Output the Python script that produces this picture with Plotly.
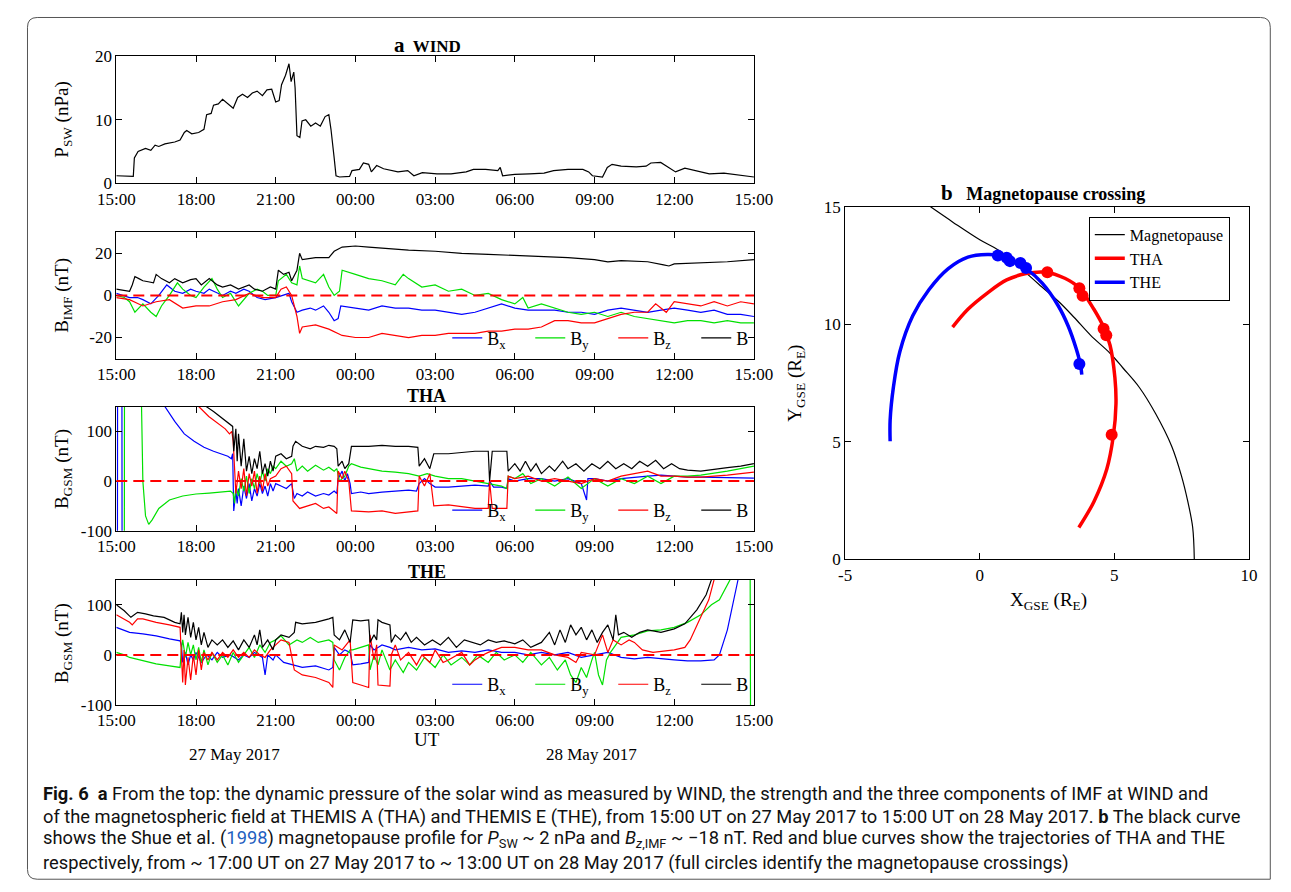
import plotly.graph_objects as go

W, H = 1291, 892
OFF = 8  # page body margin offset
def px(x): return (x - OFF) / W
def py(y): return 1 - (y - OFF) / H

SERIF = "Liberation Serif, Times New Roman, serif"
CAP = "Roboto, Noto Sans, sans-serif"

# ---------------- data ----------------
hours = [0, 3, 6, 9, 12, 15, 18, 21, 24]
hour_labels = ["15:00", "18:00", "21:00", "00:00", "03:00", "06:00", "09:00", "12:00", "15:00"]

wind_p = [(0,1.2),(0.3,1.1),(0.64,1.1),(0.68,4.0),(0.82,5.0),(1.1,5.5),(1.3,5.2),(1.46,6.0),(1.6,5.8),(1.83,6.2),
          (2.0,6.3),(2.2,6.5),(2.4,6.8),(2.56,8.0),(2.65,8.3),(2.84,7.8),(3.1,8.0),(3.3,8.5),(3.4,10.8),(3.57,11.0),
          (3.66,12.3),(3.84,12.5),(4.0,13.2),(4.2,12.5),(4.4,11.8),(4.57,13.5),(4.75,14.0),(4.94,13.5),(5.12,14.2),
          (5.3,14.5),(5.5,13.8),(5.67,14.7),(5.85,14.8),(6.0,12.8),(6.13,13.0),(6.22,15.5),(6.37,17.0),(6.5,18.8),
          (6.58,16.0),(6.68,17.5),(6.73,15.0),(6.8,7.5),(6.91,7.2),(6.99,9.8),(7.13,10.0),(7.32,9.0),(7.5,9.5),
          (7.68,9.0),(7.86,10.5),(8.0,10.8),(8.08,8.5),(8.2,4.0),(8.27,1.2),(8.4,1.0),(8.78,1.1),(8.87,2.0),(9.15,2.2),
          (9.3,3.2),(9.5,3.0),(9.6,1.8),(9.8,2.8),(10.06,2.3),(10.33,2.0),(10.6,1.8),(10.97,2.0),(11.2,1.2),(11.52,1.7),
          (12.07,1.5),(12.6,1.5),(13.17,1.8),(13.44,2.2),(13.9,2.2),(14.36,2.0),(14.45,2.5),(14.54,1.2),(15.0,1.4),
          (15.55,1.5),(16.1,1.6),(16.46,2.0),(17.0,2.2),(17.56,2.2),(17.78,1.8),(17.92,1.2),(18.3,1.0),(18.48,2.5),
          (18.66,3.0),(19.0,2.7),(19.57,2.6),(19.94,2.7),(20.12,3.2),(20.49,3.3),(20.77,2.5),(21.05,1.8),(21.4,2.4),
          (21.77,2.0),(22.32,1.5),(22.87,1.6),(23.4,1.3),(24.0,1.0)]

imf_b = [(0,3),(0.3,2.5),(0.5,2),(0.6,5),(0.7,9),(0.85,8),(1.0,7),(1.2,6.5),(1.4,6),(1.5,10),(1.7,8),(2.0,6),(2.2,8),
         (2.5,6),(2.8,7.5),(3.0,8),(3.2,5),(3.5,8),(3.8,5),(4.0,4),(4.3,5),(4.6,3),(5.0,5),(5.2,3),(5.5,2),(5.8,4),
         (6.0,3),(6.1,12),(6.3,10),(6.5,11),(6.6,7),(6.8,12),(6.9,20),(7.0,17),(7.5,18),(8.0,18),(8.2,21),(8.5,23),
         (9.0,23.5),(9.5,23),(10,22.5),(11,21.5),(12,21),(13,20),(14,19.5),(15,19),(16,18.5),(17,18),(18,17),
         (18.5,16),(19,16.5),(20,16),(20.6,14.5),(20.8,14),(21,15),(22,15.5),(23,16),(24,17)]
imf_bx = [(0,1),(0.3,0),(0.5,-1),(0.8,-1),(1.0,-2),(1.3,-4),(1.6,0),(1.9,5),(2.2,2),(2.5,1),(2.8,3),(3.0,2),(3.3,1),
          (3.5,3),(3.8,1),(4.0,0),(4.3,2),(4.5,1),(4.8,3),(5.0,2),(5.3,-1),(5.6,-2),(6.0,-1),(6.3,0),(6.5,1),(6.6,-3),
          (6.8,-8),(7.0,-7),(7.3,-6),(7.5,-7),(7.8,-5),(8.0,-8),(8.2,-12),(8.35,-11),(8.45,-5),(9.0,-6),(9.5,-7),
          (10,-5),(10.5,-6),(11,-6),(11.5,-7),(12,-7),(12.5,-8),(13,-9),(13.5,-8),(14,-6),(14.5,-4),(15,-6),(15.5,-7),
          (16,-7),(16.5,-7),(17,-8),(17.5,-8),(18,-9),(18.5,-7),(19,-6),(19.5,-7),(20,-8),(20.5,-7),(21,-6),(21.5,-7),
          (22,-8),(22.5,-7),(23,-9),(23.5,-9),(24,-10)]
imf_by = [(0,0),(0.3,-1),(0.5,-3),(0.7,-8),(1.0,-4),(1.3,-8),(1.5,-10),(1.7,-5),(2.0,0),(2.3,6),(2.5,3),(2.8,0),
          (3.0,-1),(3.3,4),(3.6,8),(3.8,3),(4.0,-1),(4.3,1),(4.6,-5),(5.0,1),(5.3,3),(5.5,2),(5.7,0),(6.0,0),(6.1,7),
          (6.4,10),(6.6,6),(6.8,5),(6.9,14),(7.0,8),(7.5,6),(7.8,10),(8.0,4),(8.2,0),(8.4,2),(8.5,12),(9.0,10),(9.5,8),
          (10,7),(10.5,5),(10.8,10),(11,8),(11.5,4),(12,5),(12.5,2),(13,3),(13.5,0),(14,1),(14.5,-2),(15,-4),(15.3,-1),
          (15.5,-6),(16,-4),(16.5,-6),(17,-8),(17.5,-9),(18,-8),(18.5,-10),(19,-8),(19.5,-10),(20,-11),(20.5,-12),
          (21,-13),(21.5,-12),(22,-12),(22.5,-13),(23,-12),(23.5,-13),(24,-13)]
imf_bz = [(0,-1),(0.5,-2),(1.0,-5),(1.5,-3),(2.0,-2),(2.5,-6),(3.0,-5),(3.5,-5),(4.0,-3),(4.5,-2),(5.0,1),(5.5,-1),
          (6.0,-1),(6.2,3),(6.4,4),(6.6,0),(6.8,-10),(6.9,-18),(7.0,-15),(7.5,-14),(8.0,-16),(8.5,-19),(9.0,-20),
          (9.5,-20),(10,-18),(10.5,-19),(11,-20),(11.5,-19),(12,-19),(12.5,-18),(13,-18),(13.5,-18),(14,-17),
          (14.5,-17),(15,-16),(15.5,-16),(16,-15),(16.5,-12),(17,-12),(17.5,-13),(18,-13),(18.5,-11),(19,-9),
          (19.5,-8),(20,-8),(20.3,-4),(20.7,-8),(21,-3),(21.5,-4),(22,-5),(22.5,-3),(23,-5),(23.5,-3),(24,-4)]

tha_bx = [(0.04,-300),(0.05,300),(0.21,300),(0.22,-300),(0.23,None),(1.75,300),(1.83,150),(2.2,120),(2.56,95),
          (2.93,80),(3.3,68),(3.66,60),(4.02,53),(4.2,50),(4.33,45),(4.38,55),(4.42,-60),(4.5,-20),(4.55,-45),
          (4.6,-15),(4.7,-50),(4.8,-10),(4.9,-35),(5.0,-5),(5.1,-40),(5.2,-15),(5.3,-30),(5.4,-5),(5.5,-25),(5.6,-10),
          (5.7,-30),(5.8,-5),(5.9,-20),(6.0,-5),(6.2,-10),(6.4,-15),(6.6,-5),(6.7,-35),(6.8,-25),(7.0,-30),(7.2,-22),
          (7.5,-30),(7.8,-25),(8.0,-28),(8.2,-20),(8.3,-25),(8.35,5),(8.5,20),(8.6,0),(8.7,15),(8.8,-5),(8.85,-25),
          (9.2,-22),(9.5,-25),(10,-22),(10.5,-20),(11,-18),(11.3,-20),(11.4,-5),(11.6,5),(11.8,-5),(12.0,-12),
          (12.5,-12),(13,-10),(13.5,-8),(14,-10),(14.05,0),(14.2,-12),(14.5,-12),(14.7,-15),(14.75,5),(15.0,0),
          (15.5,5),(16,5),(16.5,0),(17,5),(17.5,-5),(17.7,-38),(17.75,5),(18,5),(18.5,0),(19,5),(19.5,8),(20,10),
          (20.5,12),(21,10),(21.5,8),(22,8),(23,7),(24,6)]
tha_by = [(0,-300),(0.3,-300),(0.31,300),(0.9,300),(1.0,0),(1.1,-70),(1.22,-87),(1.35,-78),(1.6,-55),(2.0,-38),
          (2.5,-30),(3.0,-26),(3.5,-24),(4.0,-22),(4.3,-20),(4.4,-25),(4.45,-45),(4.5,-10),(4.6,-30),(4.7,5),
          (4.8,-20),(4.9,10),(5.0,-25),(5.1,5),(5.2,-15),(5.3,15),(5.4,-5),(5.5,20),(5.6,0),(5.7,25),(5.8,15),
          (5.9,30),(6.0,25),(6.2,40),(6.4,30),(6.6,35),(6.7,45),(6.8,20),(7.0,30),(7.2,20),(7.5,32),(7.8,22),
          (8.0,28),(8.2,20),(8.3,25),(8.4,0),(8.6,10),(8.75,30),(8.85,35),(9.2,28),(9.5,25),(10,20),(10.5,18),
          (11,15),(11.4,10),(11.7,15),(12,10),(12.5,5),(13,5),(13.5,0),(14,-5),(14.5,-10),(14.7,-15),(14.75,10),
          (15.0,5),(15.3,15),(15.6,-5),(16,5),(16.5,-10),(17,8),(17.5,-15),(18,5),(18.5,-10),(19,5),(19.5,-5),
          (20,10),(20.5,-5),(21,10),(21.5,10),(22,12),(23,20),(24,30)]
tha_bz = [(3.05,300),(3.1,150),(3.48,130),(3.84,115),(4.1,105),(4.26,95),(4.35,100),(4.4,80),(4.45,10),(4.5,-25),
          (4.6,20),(4.7,-15),(4.8,25),(4.9,-30),(5.0,15),(5.1,-10),(5.2,20),(5.3,-25),(5.4,10),(5.5,-20),(5.6,15),
          (5.7,-10),(5.8,5),(6.0,10),(6.2,25),(6.4,30),(6.6,15),(6.65,-40),(6.9,-55),(7.2,-50),(7.5,-45),(7.8,-55),
          (8.0,-52),(8.3,-65),(8.35,20),(8.5,5),(8.6,20),(8.75,0),(8.85,-60),(9.5,-62),(10,-60),(10.5,-65),(11,-62),
          (11.35,-60),(11.4,10),(11.6,-10),(11.8,15),(11.95,-50),(12.5,-48),(13,-52),(13.5,-55),(14,-55),(14.05,0),
          (14.15,-55),(14.7,-55),(14.75,10),(15.0,5),(15.5,10),(16,0),(16.5,5),(17,0),(17.5,-5),(18,5),(18.5,0),
          (19,10),(19.5,15),(20,20),(20.5,10),(21,10),(21.5,8),(22,8),(23,12),(24,18)]
tha_b = [(3.3,300),(3.38,150),(3.66,140),(4.02,125),(4.3,115),(4.38,110),(4.42,60),(4.5,105),(4.55,40),(4.6,95),
         (4.7,30),(4.8,85),(4.9,20),(5.0,50),(5.1,15),(5.2,45),(5.3,25),(5.4,60),(5.5,15),(5.6,35),(5.7,10),(5.8,40),
         (5.9,20),(6.0,50),(6.2,55),(6.4,45),(6.6,50),(6.65,70),(6.75,80),(7.0,70),(7.3,65),(7.5,70),(7.8,68),
         (8.0,72),(8.2,70),(8.3,65),(8.35,30),(8.5,40),(8.6,25),(8.75,35),(8.85,70),(9.5,70),(10,72),(10.5,70),
         (11,70),(11.35,68),(11.4,30),(11.6,45),(11.8,25),(11.95,55),(12.5,55),(13,58),(13.5,60),(14,60),(14.05,0),
         (14.15,60),(14.7,60),(14.75,20),(15.0,35),(15.2,20),(15.4,40),(15.6,20),(15.8,35),(16,15),(16.3,30),
         (16.5,20),(16.8,40),(17,25),(17.3,35),(17.6,20),(17.9,35),(18.2,25),(18.5,40),(18.8,25),(19.1,35),
         (19.4,25),(19.7,40),(20.0,30),(20.3,42),(20.6,25),(20.9,35),(21.2,25),(21.5,22),(22,20),(22.5,24),
         (23,27),(23.5,30),(24,35)]

the_bx = [(0,55),(0.5,45),(1.0,42),(1.5,38),(2.0,32),(2.4,28),(2.45,20),(2.5,-15),(2.6,5),(2.7,-20),(2.8,0),
          (2.9,-10),(3.0,5),(3.2,-15),(3.4,0),(3.6,-10),(3.8,5),(4.0,-5),(4.3,0),(4.6,-10),(4.8,0),(5.0,-5),
          (5.2,5),(5.5,-5),(5.6,-40),(5.7,0),(5.9,-10),(6.0,0),(6.3,-15),(6.7,-20),(7.0,-25),(7.5,-22),(8.0,-30),
          (8.15,-25),(8.2,15),(8.4,0),(8.6,10),(8.8,5),(8.9,-20),(9.2,-18),(9.5,-15),(9.55,20),(9.7,10),(9.85,15),
          (10.0,20),(10.3,15),(10.5,10),(11,15),(11.5,10),(12,12),(12.5,5),(13,8),(13.5,5),(14,10),(14.5,5),(15,5),
          (15.5,0),(16,5),(16.5,0),(17,5),(17.5,-5),(18,0),(18.5,5),(19,-5),(19.5,-8),(20,-5),(20.5,-8),(21,-10),
          (21.5,-12),(22,-12),(22.5,-10),(22.7,0),(23.0,50),(23.2,100),(23.4,150),(23.5,300)]
the_by = [(0,5),(0.3,0),(0.5,-5),(1.0,-12),(1.5,-18),(2.0,-22),(2.4,-25),(2.45,10),(2.5,30),(2.6,-5),(2.7,25),
          (2.8,0),(2.9,20),(3.0,-10),(3.1,15),(3.2,-15),(3.3,10),(3.45,-20),(3.6,5),(3.8,-15),(4.0,0),(4.2,-20),
          (4.4,5),(4.6,-15),(4.8,0),(5.0,15),(5.2,-5),(5.4,20),(5.6,5),(5.8,25),(6.0,30),(6.2,38),(6.5,20),(6.8,30),
          (7.0,25),(7.3,35),(7.6,25),(8.0,30),(8.15,25),(8.2,-10),(8.4,-30),(8.6,-5),(8.8,10),(8.9,10),(9.2,15),
          (9.5,20),(9.55,-30),(9.7,0),(9.85,-20),(10.0,10),(10.3,-30),(10.5,-10),(10.8,-35),(11.0,-15),(11.3,-30),
          (11.6,-5),(12.0,-25),(12.3,0),(12.6,-20),(13.0,-5),(13.3,-20),(13.6,0),(14.0,-15),(14.3,5),(14.6,-10),
          (15.0,0),(15.3,-15),(15.6,5),(16.0,-20),(16.3,-5),(16.6,-30),(16.9,-10),(17.1,-40),(17.3,-55),(17.5,-25),
          (17.7,-45),(17.9,-10),(18.0,5),(18.15,-40),(18.3,-60),(18.45,-10),(18.6,5),(18.8,20),(19.0,35),(19.5,40),
          (20.0,48),(20.5,50),(21.0,55),(21.5,65),(22.0,80),(22.4,100),(22.7,110),(23.1,150),(23.2,300),
          (23.85,300),(23.88,-300)]
the_bz = [(0,80),(0.5,65),(0.6,60),(0.8,72),(1.0,72),(1.5,65),(2.0,60),(2.4,55),(2.45,0),(2.5,-55),(2.55,10),
          (2.6,-60),(2.7,-5),(2.8,-50),(2.9,0),(3.0,-40),(3.1,10),(3.2,-30),(3.3,5),(3.45,-10),(3.6,5),(3.8,-10),
          (4.0,5),(4.2,-5),(4.4,10),(4.6,-5),(4.8,5),(5.0,-5),(5.2,10),(5.4,0),(5.6,-5),(5.8,10),(6.0,20),(6.2,30),
          (6.5,25),(6.7,-30),(7.0,-40),(7.5,-45),(8.0,-55),(8.15,-65),(8.2,20),(8.5,10),(8.8,30),(8.9,-55),
          (9.2,-60),(9.5,-65),(9.55,40),(9.7,-10),(9.8,20),(9.85,-60),(10.3,-62),(10.35,0),(10.5,20),(10.7,-10),
          (11,5),(11.3,-20),(11.5,0),(11.8,-15),(12,10),(12.3,-15),(12.5,-10),(12.8,0),(13,5),(13.3,-20),
          (13.5,-10),(13.8,0),(14,5),(14.5,15),(15,15),(15.5,10),(16,10),(16.5,0),(17,-5),(17.3,-15),(17.5,5),
          (18,0),(18.2,25),(18.3,40),(18.5,5),(18.7,30),(19,20),(19.3,30),(19.5,25),(19.8,10),(20.2,5),(20.6,8),
          (21.0,10),(21.4,15),(21.6,30),(21.95,70),(22.3,110),(22.5,150),(22.6,300)]
the_b = [(0,100),(0.3,88),(0.55,75),(0.8,85),(1.1,82),(1.4,78),(1.8,75),(2.2,65),(2.4,62),(2.45,85),(2.5,45),
         (2.55,80),(2.6,40),(2.7,75),(2.8,35),(2.9,65),(3.0,30),(3.1,55),(3.2,20),(3.3,45),(3.45,15),(3.6,30),
         (3.8,20),(4.0,30),(4.2,15),(4.4,28),(4.6,10),(4.8,30),(5.0,15),(5.2,40),(5.3,20),(5.4,50),(5.5,15),
         (5.7,30),(5.9,10),(6.0,30),(6.2,40),(6.5,35),(6.7,45),(6.75,65),(7.0,62),(7.5,65),(8.0,72),(8.15,75),
         (8.2,40),(8.4,30),(8.6,50),(8.8,25),(8.9,70),(9.2,68),(9.5,70),(9.55,25),(9.7,40),(9.8,30),(9.85,70),
         (10.0,65),(10.3,60),(10.35,25),(10.5,40),(10.7,30),(10.9,45),(11.1,25),(11.3,35),(11.6,20),(11.9,30),
         (12.2,20),(12.5,35),(12.8,15),(13.1,30),(13.4,25),(13.7,20),(14.0,30),(14.3,25),(14.6,28),(15.0,22),
         (15.3,30),(15.6,15),(16.0,25),(16.3,45),(16.5,20),(16.7,50),(16.9,25),(17.1,60),(17.3,40),(17.5,55),
         (17.7,30),(17.9,50),(18.1,25),(18.3,45),(18.5,60),(18.7,30),(18.8,80),(18.9,40),(19.1,45),(19.4,35),
         (19.7,45),(20.0,50),(20.5,45),(21.0,52),(21.4,62),(21.85,90),(22.2,120),(22.4,150),(22.5,300)]

# panel b: trajectories (X_GSE, Y_GSE)
mp_curve = [(-1.83,15.0),(-1.0,14.35),(0.0,13.6),(0.64,13.2),(1.2,12.75),(1.72,12.19),(2.3,11.6),(2.92,10.98),
            (3.5,10.3),(4.12,9.53),(4.84,8.77),(5.32,8.14),(5.93,7.31),(6.53,6.2),(7.13,4.81),(7.49,3.56),
            (7.73,2.45),(7.91,1.35),(7.97,0.0)]
the_traj = [(-3.33,5.02),(-3.33,5.92),(-3.21,7.31),(-2.97,8.83),(-2.49,10.36),(-1.89,11.47),(-1.17,12.37),
            (-0.44,12.86),(0.28,12.97),(0.70,12.93),(1.12,12.75),(1.72,12.37),(2.32,11.75),(2.92,10.78),
            (3.28,9.94),(3.58,8.97),(3.74,8.28),(3.79,7.86)]
the_cross = [(0.67,12.93),(1.0,12.83),(1.12,12.69),(1.51,12.61),(1.72,12.40),(3.70,8.31)]
tha_traj = [(-1.01,9.88),(-0.44,10.64),(0.28,11.33),(1.0,11.89),(1.72,12.16),(2.44,12.22),(3.16,11.96),
            (3.70,11.54),(4.24,10.64),(4.60,9.88),(4.84,9.11),(5.02,7.73),(5.06,6.62),(4.96,5.23),(4.72,3.84),
            (4.24,2.45),(3.68,1.35)]
tha_cross = [(2.51,12.22),(3.70,11.54),(3.82,11.22),(4.60,9.81),(4.70,9.53),(4.90,5.30)]

def split(pairs):
    return [p[0] for p in pairs], [p[1] for p in pairs]

BLUE, GREEN, RED, BLACK = "#0000ff", "#00e000", "#ff0000", "#000000"

fig = go.Figure()

def add_line(pairs, color, ax, name=None, legend=None, width=1.2, show=False, shape="linear"):
    x, y = split(pairs)
    fig.add_trace(go.Scatter(x=x, y=y, mode="lines", line=dict(color=color, width=width, shape=shape),
                             xaxis="x" + ax, yaxis="y" + ax, name=name or "",
                             legend=legend or "legend", showlegend=show, hoverinfo="skip",
                             connectgaps=False))

add_line(wind_p, BLACK, "")
comp_names = ["B<sub>x</sub>", "B<sub>y</sub>", "B<sub>z</sub>", "B"]
for ax, leg, series in [("2", "legend2", [imf_bx, imf_by, imf_bz, imf_b]),
                        ("3", "legend3", [tha_bx, tha_by, tha_bz, tha_b]),
                        ("4", "legend4", [the_bx, the_by, the_bz, the_b])]:
    for s, c, n in zip(series, [BLUE, GREEN, RED, BLACK], comp_names):
        add_line(s, c, ax, name=n, legend=leg, show=True)

add_line(mp_curve, BLACK, "5", name="Magnetopause", width=1.2, show=True, shape="spline")
add_line(tha_traj, RED, "5", name="THA", width=3.5, show=True, shape="spline")
add_line(the_traj, BLUE, "5", name="THE", width=3.5, show=True, shape="spline")
for pts, c in [(tha_cross, RED), (the_cross, BLUE)]:
    x, y = split(pts)
    fig.add_trace(go.Scatter(x=x, y=y, mode="markers", marker=dict(color=c, size=12),
                             xaxis="x5", yaxis="y5", showlegend=False, hoverinfo="skip"))

tickfont = dict(family=SERIF, size=17, color="black")
def axis(**kw):
    d = dict(showline=True, linecolor="black", linewidth=1, mirror="ticks", ticks="inside",
             ticklen=6, tickcolor="black", showgrid=False, zeroline=False, tickfont=tickfont)
    d.update(kw)
    return d

xdom = [px(100), px(757)]
tx = dict(range=[0, 24], tickvals=hours, ticktext=hour_labels, domain=xdom)
layout = dict(
    width=W, height=H, margin=dict(l=0, r=0, t=0, b=0),
    paper_bgcolor="white", plot_bgcolor="white",
    xaxis=axis(anchor="y", **tx),
    yaxis=axis(anchor="x", domain=[py(178), py(48)], range=[0, 20], tickvals=[0, 10, 20]),
    xaxis2=axis(anchor="y2", **tx),
    yaxis2=axis(anchor="x2", domain=[py(357), py(228)], range=[-30, 30], tickvals=[-20, 0, 20],
                ticktext=["-20", "0", "20"]),
    xaxis3=axis(anchor="y3", **tx),
    yaxis3=axis(anchor="x3", domain=[py(533), py(406)], range=[-100, 150], tickvals=[-100, 0, 100],
                ticktext=["-100", "0", "100"]),
    xaxis4=axis(anchor="y4", **tx),
    yaxis4=axis(anchor="x4", domain=[py(711), py(583)], range=[-100, 150], tickvals=[-100, 0, 100],
                ticktext=["-100", "0", "100"]),
    xaxis5=axis(anchor="y5", domain=[px(851), px(1267)], range=[-5, 10], tickvals=[-5, 0, 5, 10],
                ticktext=["-5", "0", "5", "10"]),
    yaxis5=axis(anchor="x5", domain=[py(562), py(202)], range=[0, 15], tickvals=[0, 5, 10, 15]),
    legend=dict(x=px(1102), y=py(212), xanchor="left", yanchor="top", bgcolor="white",
                bordercolor="black", borderwidth=1, font=dict(family=SERIF, size=16, color="black"),
                tracegroupgap=0, itemwidth=30),
)
for i, ybot in zip(["2", "3", "4"], [355, 531, 709]):
    layout["legend" + i] = dict(orientation="h", x=px(441), y=py(ybot), xanchor="left", yanchor="bottom",
                                bgcolor="rgba(0,0,0,0)", font=dict(family=SERIF, size=18, color="black"),
                                entrywidth=38, entrywidthmode="pixels", itemwidth=30)
fig.update_layout(**layout)

# zero dashed lines
for ax in ["2", "3", "4"]:
    fig.add_shape(type="line", xref="x%s domain" % ax, yref="y" + ax, x0=0, x1=1, y0=0, y1=0,
                  line=dict(color=RED, width=2, dash="11px,6px"), layer="above")

# frame
r = 10
x0, y0, x1, y1 = 8.5, 8.5, 1289, 889
path = ("M {a},{b} L {c},{b} Q {d},{b} {d},{e} L {d},{f} L {g},{h} Q {i},{h} {i},{j} L {i},{k} Q {i},{b} {a},{b} Z"
        .format(a=px(x0 + r), b=py(y0), c=px(x1 - r), d=px(x1), e=py(y0 + r), f=py(y1), g=px(x0 + r), h=py(y1),
                i=px(x0), j=py(y1 - r), k=py(y0 + r)))
fig.add_shape(type="path", xref="paper", yref="paper", path=path, line=dict(color="#555555", width=1))

def ann(x, y, text, size=17, angle=0, xanchor="center", family=SERIF, color="black"):
    fig.add_annotation(x=px(x), y=py(y), xref="paper", yref="paper", text=text, showarrow=False,
                       textangle=angle, xanchor=xanchor, yanchor="middle",
                       font=dict(family=family, size=size, color=color))

ann(421, 37, "<b><span style='font-size:21px'>a</span>  WIND</b>", size=17)
ann(420, 395, "<b>THA</b>", size=18)
ann(420, 575, "<b>THE</b>", size=18)
ann(1055, 188, "<b><span style='font-size:21px'>b</span>   Magnetopause crossing</b>", size=18)
ann(45, 113, "P<sub>SW</sub> (nPa)", size=19, angle=-90)
ann(45, 292, "B<sub>IMF</sub> (nT)", size=19, angle=-90)
ann(45, 470, "B<sub>GSM</sub> (nT)", size=19, angle=-90)
ann(45, 648, "B<sub>GSM</sub> (nT)", size=19, angle=-90)
ann(800, 382, "Y<sub>GSE</sub> (R<sub>E</sub>)", size=19, angle=-90)
ann(1060, 605, "X<sub>GSE</sub> (R<sub>E</sub>)", size=19)
ann(420, 746, "UT", size=19)
ann(222, 762, "27 May 2017", size=17)
ann(590, 762, "28 May 2017", size=17)

cap_lines = [
    "<b>Fig. 6</b>  <b>a</b> From the top: the dynamic pressure of the solar wind as measured by WIND, the strength and the three components of IMF at WIND and",
    "of the magnetospheric field at THEMIS A (THA) and THEMIS E (THE), from 15:00 UT on 27 May 2017 to 15:00 UT on 28 May 2017. <b>b</b> The black curve",
    "shows the Shue et al. (<span style='color:#1f5fbf'>1998</span>) magnetopause profile for <i>P</i><sub>SW</sub> ~ 2 nPa and <i>B</i><sub><i>z</i>,IMF</sub> ~ −18 nT. Red and blue curves show the trajectories of THA and THE",
    "respectively, from ~ 17:00 UT on 27 May 2017 to ~ 13:00 UT on 28 May 2017 (full circles identify the magnetopause crossings)",
]
for yy, t in zip([801, 825, 848, 872], cap_lines):
    ann(22, yy, t, size=18.3, xanchor="left", family=CAP, color="#111111")

fig.write_html("out.html")
